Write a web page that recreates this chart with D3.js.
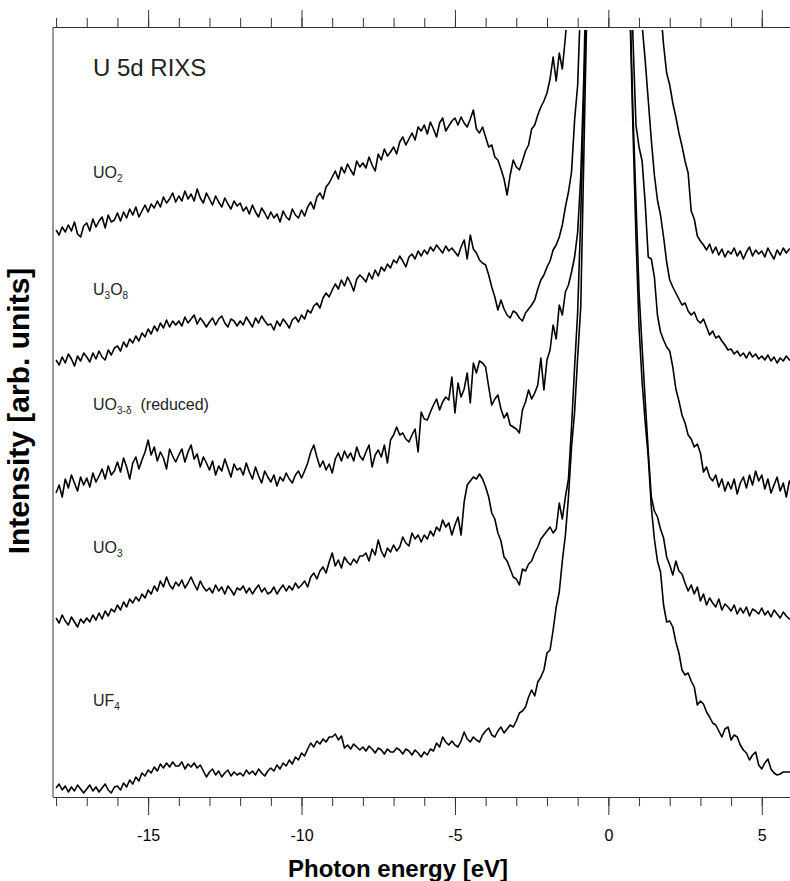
<!DOCTYPE html>
<html>
<head>
<meta charset="utf-8">
<script src="https://cdn.jsdelivr.net/npm/d3@7"></script>
<style>
  body { margin: 0; background: #fff; }
  svg { display: block; font-family: "Liberation Sans", Arial, sans-serif; }
</style>
</head>
<body>
<svg id="chart"></svg>
<script>
// energy grid of the spectra (eV), 0.1 eV steps from -18 to 6
const energyStart = -18;
const energyStep = 0.1;
const energies = d3.range(241).map(i => +(energyStart + i * energyStep).toFixed(1));

// intensities (arb. units, already offset for stacking); values above ~770 run off the top
const uo2 = [
  567, 562, 570, 565, 572, 566, 575, 563, 560, 571,
  574, 566, 578, 570, 576, 580, 569, 582, 575, 577,
  584, 576, 585, 579, 588, 582, 590, 580, 586, 592,
  585, 593, 589, 596, 590, 600, 594, 598, 604, 595,
  601, 596, 606, 598, 603, 596, 608, 599, 594, 604,
  598, 592, 601, 595, 590, 599, 593, 588, 596, 591,
  594, 586, 590, 583, 592, 585, 580, 589, 584, 578,
  585, 579, 583, 575, 586, 580, 577, 588, 582, 579,
  587, 581, 590, 595, 588, 600, 604, 598, 610, 614,
  620, 626, 618, 630, 624, 633, 627, 622, 636, 630,
  634, 629, 640, 632, 626, 643, 637, 648, 641, 645,
  650, 643, 655, 660, 652, 658, 664, 657, 670, 666,
  672, 663, 675, 668, 660, 674, 679, 666, 671, 676,
  679, 672, 680, 674, 670, 678, 687, 668, 664, 670,
  660, 650, 652, 640, 637, 628, 618, 602, 622, 637,
  630, 627, 636, 646, 652, 668, 672, 682, 690, 696,
  704, 718, 740, 716, 744, 728, 760, 800, 900, 1000,
  1500, 1500, 1500, 1500, 1500, 1500, 1500, 1500, 1500, 1500,
  1500, 1500, 1500, 1500, 1500, 1500, 1500, 1500, 1500, 1500,
  1200, 1100, 1000, 950, 900, 860, 830, 790, 752, 724,
  712, 694, 680, 664, 651, 636, 624, 586, 578, 561,
  556, 552, 547, 553, 544, 550, 542, 548, 540, 546,
  543, 549, 541, 546, 538, 545, 550, 541, 547, 543,
  546, 540, 549, 543, 538, 547, 542, 549, 544, 548,
  547
];
const u3o8 = [
  437, 432, 440, 434, 443, 438, 431, 441, 436, 444,
  440, 435, 444, 438, 446, 440, 437, 447, 442, 449,
  451, 446, 455, 450, 458, 454, 461, 456, 464, 460,
  468, 463, 471, 466, 474, 469, 477, 470, 476, 472,
  476, 471, 480, 474, 478, 482, 473, 479, 475, 470,
  475, 479, 472, 478, 481, 474, 470, 478, 476, 471,
  476, 472, 480, 475, 470, 479, 474, 481, 476, 472,
  473, 467, 476, 471, 478, 474, 469, 477, 480, 475,
  482, 478, 487, 484, 491, 494, 489, 499, 504, 500,
  507, 513, 508, 517, 511, 520, 514, 506, 518, 522,
  519, 515, 524, 518, 527, 521, 530, 526, 533, 529,
  537, 534, 541, 536, 530, 540, 543, 538, 546, 541,
  547, 543, 550, 546, 552, 548, 544, 551, 546, 549,
  545, 541, 550, 557, 538, 562, 548, 544, 537, 534,
  532, 522, 510, 500, 487, 497, 488, 482, 479, 486,
  484, 479, 476, 484, 488, 492, 497, 508, 517, 522,
  530, 536, 547, 552, 560, 572, 590, 605, 625, 677,
  712, 800, 1000, 1500, 1500, 1500, 1500, 1500, 1500, 1500,
  1500, 1500, 1500, 1500, 1500, 1500, 1500, 1500, 1500, 1200,
  900, 772, 737, 697, 657, 622, 597, 582, 560, 535,
  517, 510, 504, 498, 492, 494, 486, 482, 485, 477,
  474, 478, 470, 462, 466, 459, 461, 456, 452, 447,
  448, 443, 446, 441, 444, 439, 445, 440, 443, 438,
  441, 437, 442, 436, 440, 434, 439, 436, 441, 437,
  439
];
const uo3Reduced = [
  304, 312, 300, 318, 309, 322, 314, 306, 320, 312,
  319, 310, 324, 315, 321, 328, 318, 331, 322, 326,
  335, 325, 339, 330, 318, 334, 340, 328, 337, 345,
  357, 342, 350, 336, 345, 339, 328, 348, 341, 335,
  342, 348, 335, 345, 352, 338, 343, 330, 340, 334,
  327, 336, 322, 331, 326, 338, 329, 320, 333, 327,
  329, 322, 334, 325, 318, 330, 321, 314, 326, 320,
  315, 322, 311, 320, 316, 324, 318, 314, 322, 326,
  319, 326, 334, 345, 352, 340, 330, 336, 327, 333,
  324, 338, 344, 336, 346, 339, 344, 336, 350, 341,
  337, 345, 352, 330, 342, 347, 340, 352, 334, 357,
  362, 370, 362, 364, 358, 355, 362, 368, 345, 385,
  378, 377, 385, 392, 398, 387, 395, 400, 397, 420,
  384, 414, 400, 408, 424, 394, 434, 424, 436, 434,
  430, 410, 392, 398, 402, 388, 379, 384, 372, 370,
  368, 364, 387, 395, 407, 398, 404, 412, 439, 407,
  437, 447, 472, 458, 492, 482, 505, 512, 525, 540,
  565, 620, 720, 860, 1100, 1500, 1500, 1500, 1500, 1500,
  1500, 1500, 1500, 1500, 1500, 1500, 1500, 900, 760, 672,
  650, 636, 594, 540, 538, 520, 482, 465, 457, 450,
  446, 430, 408, 396, 382, 374, 362, 358, 350, 353,
  344, 325, 330, 320, 316, 322, 310, 318, 306, 315,
  308, 318, 303, 314, 320, 309, 322, 312, 326, 316,
  322, 308, 318, 304, 312, 320, 306, 314, 300, 316,
  310
];
const uo3 = [
  179, 174, 182, 176, 172, 180, 175, 170, 178, 174,
  179, 175, 182, 177, 184, 178, 186, 181, 188, 185,
  192, 187, 195, 190, 198, 194, 200, 196, 203, 199,
  207, 203, 211, 206, 216, 210, 220, 212, 208, 215,
  211, 217, 209, 214, 220, 213, 207, 216, 210, 206,
  209, 204, 212, 206, 210, 203, 211, 207, 202, 209,
  207, 211, 204, 209, 203, 208, 212, 205, 209, 203,
  205, 210, 203, 208, 212, 206, 211, 207, 214, 209,
  212, 216, 210, 220, 224, 218, 226, 230, 224, 235,
  244, 231, 237, 229, 240, 235, 232, 238, 234, 241,
  241, 244, 236, 248, 242, 257, 246, 240, 249, 245,
  252, 246, 250, 260, 254, 251, 264, 258, 262, 255,
  262, 258, 266, 261, 270, 266, 277, 270, 274, 262,
  272, 280, 262, 295, 312, 316, 320, 318, 323, 318,
  310, 300, 284, 278, 264, 256, 240, 236, 228, 220,
  218, 212, 228, 226, 233, 236, 244, 250, 258, 262,
  266, 270, 264, 268, 294, 278, 300, 318, 370, 430,
  485, 580, 700, 820, 1100, 1500, 1500, 1500, 1500, 1500,
  1500, 1500, 1500, 1500, 1500, 1500, 1500, 800, 686, 596,
  505, 450, 397, 346, 300, 286, 280, 268, 259, 240,
  232, 222, 236, 226, 223, 214, 206, 212, 203, 210,
  196, 203, 192, 199, 194, 190, 198, 187, 193, 190,
  186, 192, 183, 189, 184, 190, 181, 188, 186, 183,
  189, 182, 186, 180, 187, 183, 179, 185, 181, 178,
  180
];
const uf4 = [
  9, 13, 7, 11, 5, 10, 6, 12, 8, 4,
  8, 12, 6, 10, 5, 9, 13, 7, 4, 10,
  11, 7, 14, 10, 17, 13, 20, 16, 24, 21,
  27, 24, 30, 26, 33, 29, 34, 30, 35, 31,
  31, 35, 28, 33, 30, 34, 29, 32, 26, 20,
  25, 28, 22, 26, 20, 24, 27, 21, 25, 22,
  24, 21, 27, 23, 26, 22, 28, 24, 21, 26,
  29, 26, 32, 28, 34, 31, 37, 33, 40, 37,
  44, 41, 48, 54, 50, 56, 53, 58, 55, 60,
  60, 63, 57, 61, 49, 52, 48, 53, 50, 47,
  50, 46, 51, 48, 44, 49, 47, 43, 48, 45,
  45, 49, 47, 43, 48, 46, 42, 47, 44, 40,
  45, 42, 48, 46, 54, 50, 60, 55, 52, 56,
  52, 50, 56, 65, 58, 55, 60, 57, 55, 62,
  66, 69, 62, 60, 66, 70, 64, 68, 72, 70,
  76, 84, 86, 90, 100, 107, 101, 115, 120, 127,
  144, 147, 167, 190, 205, 236, 262, 300, 350, 385,
  440, 490, 640, 790, 1100, 1500, 1500, 1500, 1500, 1500,
  1500, 1500, 1500, 1500, 1500, 1500, 1500, 790, 670, 560,
  470, 415, 375, 340, 290, 258, 236, 225, 192, 175,
  176, 170, 155, 144, 127, 122, 124, 116, 110, 92,
  96, 93, 85, 80, 74, 72, 66, 60, 68, 70,
  57, 62, 60, 52, 47, 44, 37, 42, 45, 32,
  28, 34, 38, 28, 24, 22, 23, 25, 25, 25,
  25
];

const series = [uo2, u3o8, uo3Reduced, uo3, uf4];
// sample labels: [text, isSubscript]
const sampleLabels = [
  [["UO", false], ["2", true]],
  [["U", false], ["3", true], ["O", false], ["8", true]],
  [["UO", false], ["3-δ", true], ["(reduced)", false]],
  [["UO", false], ["3", true]],
  [["UF", false], ["4", true]]
];
const majorTicks = [-15, -10, -5, 0, 5];
const minorTicks = d3.range(-18, 6);

const width = 790, height = 881;
const margin = { left: 53, right: 790, top: 27, bottom: 797 };

const svg = d3.select("#chart").attr("width", width).attr("height", height);

const x = d3.scaleLinear().domain([-18.1, 5.92]).range([margin.left, margin.right]);
const y = d3.scaleLinear().domain([0, 770]).range([margin.bottom, margin.top]);

svg.append("defs").append("clipPath").attr("id", "plot-clip")
  .append("rect")
  .attr("x", margin.left).attr("y", margin.top + 3)
  .attr("width", margin.right - margin.left)
  .attr("height", margin.bottom - margin.top - 3);

const line = d3.line()
  .x((d, i) => x(energies[i]))
  .y(d => y(d));

svg.append("g")
  .attr("clip-path", "url(#plot-clip)")
  .selectAll("path")
  .data(series)
  .join("path")
  .attr("d", line)
  .attr("fill", "none")
  .attr("stroke", "#000")
  .attr("stroke-width", 1.6)
  .attr("stroke-linejoin", "round");

// axes
const axisColor = "#333";
function styleAxis(g) {
  g.select(".domain").attr("stroke", axisColor);
  g.selectAll(".tick line").attr("stroke", axisColor);
  g.selectAll(".tick text").attr("fill", "#000").attr("font-size", 16)
    .attr("font-family", "'Liberation Sans', Arial, sans-serif");
}

svg.append("g").attr("transform", `translate(0,${margin.bottom})`)
  .call(d3.axisBottom(x).tickValues(minorTicks).tickSize(9).tickSizeOuter(0).tickFormat(""))
  .call(styleAxis);
svg.append("g").attr("transform", `translate(0,${margin.bottom})`)
  .call(d3.axisBottom(x).tickValues(majorTicks).tickSize(18).tickSizeOuter(0)
    .tickPadding(15).tickFormat(d => String(d)))
  .call(styleAxis);

svg.append("g").attr("transform", `translate(0,${margin.top})`)
  .call(d3.axisTop(x).tickValues(minorTicks).tickSize(9).tickSizeOuter(0).tickFormat(""))
  .call(styleAxis);
svg.append("g").attr("transform", `translate(0,${margin.top})`)
  .call(d3.axisTop(x).tickValues(majorTicks).tickSize(17).tickSizeOuter(0).tickFormat(""))
  .call(styleAxis);

svg.append("line")
  .attr("x1", margin.left).attr("x2", margin.left)
  .attr("y1", margin.top).attr("y2", margin.bottom)
  .attr("stroke", axisColor);

// titles
svg.append("text")
  .attr("x", 398).attr("y", 877)
  .attr("text-anchor", "middle")
  .attr("font-size", 24).attr("font-weight", "bold")
  .text("Photon energy [eV]");

svg.append("text")
  .attr("transform", "translate(29,411) rotate(-90)")
  .attr("text-anchor", "middle")
  .attr("font-size", 30).attr("font-weight", "bold")
  .text("Intensity [arb. units]");

svg.append("text")
  .attr("x", 93).attr("y", 76)
  .attr("font-size", 24)
  .attr("fill", "#222")
  .text("U 5d RIXS");

// sample labels
const labelY = [178, 295, 410, 553, 706];
sampleLabels.forEach((parts, k) => {
  const t = svg.append("text")
    .attr("x", 93).attr("y", labelY[k])
    .attr("font-size", 16)
    .attr("fill", "#222");
  let shifted = false;
  parts.forEach(([txt, sub], j) => {
    const ts = t.append("tspan").text(txt);
    if (sub) {
      ts.attr("font-size", 10).attr("dy", shifted ? 0 : 4);
      shifted = true;
    } else {
      ts.attr("dy", shifted ? -4 : 0);
      if (j > 0 && txt.startsWith("(")) ts.attr("dx", 9);
      shifted = false;
    }
  });
});
</script>
</body>
</html>
